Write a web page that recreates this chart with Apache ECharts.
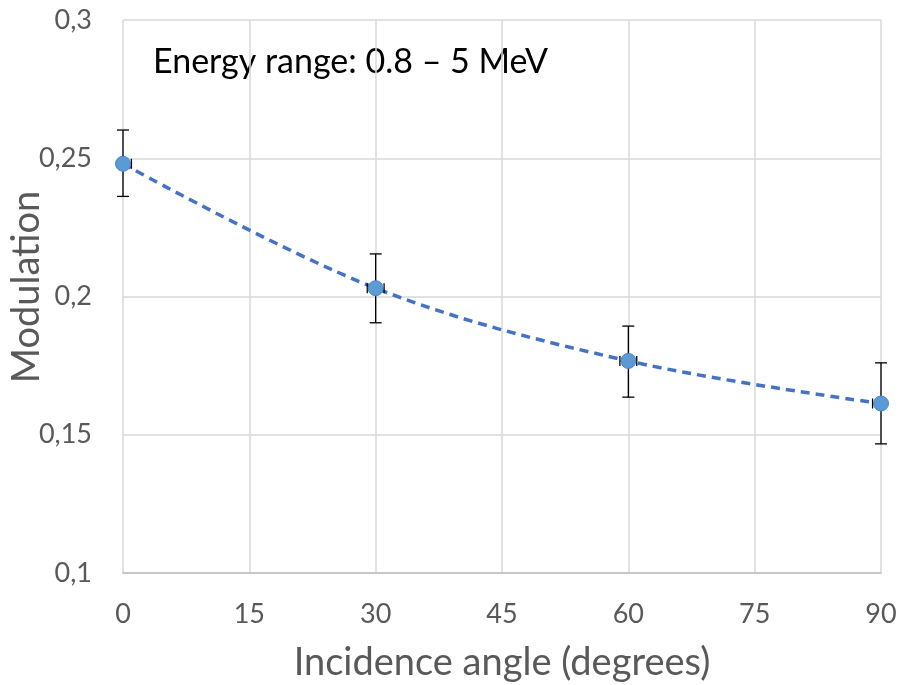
<!DOCTYPE html>
<html><head><meta charset="utf-8">
<script src="https://cdn.jsdelivr.net/npm/echarts@6/dist/echarts.min.js"></script>
<style>html,body{margin:0;padding:0;background:#fff}#c{width:899px;height:685px}</style>
</head><body><div id="c"></div>
<script>
const angles = [0, 30, 60, 90];
const modulation = [0.248, 0.203, 0.1767, 0.1613];
const errLow = [0.2362, 0.1905, 0.1636, 0.1467];
const errHigh = [0.2602, 0.2154, 0.1893, 0.1760];
const xErr = [1, 1, 1, 1];
const xTicks = [0, 15, 30, 45, 60, 75, 90];
const yTicks = [0.1, 0.15, 0.2, 0.25, 0.3];
const annotation = 'Energy range: 0.8 – 5 MeV';

const FONT = 'Lato';
const chart = echarts.init(document.getElementById('c'), null, {renderer: 'canvas'});

const pts = angles.map((a, i) => [a, modulation[i]]);
const errData = angles.map((a, i) => [a, errLow[i], errHigh[i], xErr[i], modulation[i]]);

chart.setOption({
  animation: false,
  grid: {left: 123, right: 18, top: 20, bottom: 112, containLabel: false, outerBoundsMode: 'none'},
  xAxis: {
    type: 'value', min: 0, max: 90, interval: 15,
    axisLine: {show: true, lineStyle: {color: '#bfbfbf', width: 1.5}},
    axisTick: {show: false},
    splitLine: {show: true, lineStyle: {color: '#d9d9d9', width: 1.5}},
    axisLabel: {color: '#595959', fontSize: 27, fontFamily: FONT, margin: 28},
    name: 'Incidence angle (degrees)', nameLocation: 'middle', nameGap: 71,
    nameTextStyle: {color: '#595959', fontSize: 38, fontFamily: FONT}
  },
  yAxis: {
    type: 'value', min: 0.1, max: 0.3, interval: 0.05,
    axisLine: {show: false},
    axisTick: {show: false},
    splitLine: {show: true, lineStyle: {color: '#d9d9d9', width: 1.5}},
    axisLabel: {color: '#595959', fontSize: 27, fontFamily: FONT, margin: 31,
      formatter: v => String(+v.toFixed(2)).replace('.', ',')},
    name: 'Modulation', nameLocation: 'middle', nameGap: 77, nameRotate: 90,
    nameMoveOverlap: false,
    nameTextStyle: {color: '#595959', fontSize: 38, fontFamily: FONT, padding: [0, 0, 0, 19]}
  },
  series: [
    {
      type: 'line', data: pts, smooth: 0.35, symbol: 'none', z: 2,
      lineStyle: {color: '#4472c4', width: 3.5, type: [9, 6]}
    },
    {
      type: 'custom', z: 3, data: errData,
      renderItem: function (params, api) {
        const x = api.value(0), lo = api.value(1), hi = api.value(2), dx = api.value(3), y = api.value(4);
        const pTop = api.coord([x, hi]), pBot = api.coord([x, lo]);
        const pL = api.coord([Math.max(0, x - dx), y]), pR = api.coord([Math.min(90, x + dx), y]);
        const cap = 6, hcap = 5;
        const st = {stroke: '#000', lineWidth: 1.3, fill: null};
        const children = [
          {type: 'line', shape: {x1: pTop[0], y1: pTop[1], x2: pBot[0], y2: pBot[1]}, style: st},
          {type: 'line', shape: {x1: pTop[0] - cap, y1: pTop[1], x2: pTop[0] + cap, y2: pTop[1]}, style: st},
          {type: 'line', shape: {x1: pBot[0] - cap, y1: pBot[1], x2: pBot[0] + cap, y2: pBot[1]}, style: st},
          {type: 'line', shape: {x1: pL[0], y1: pL[1], x2: pR[0], y2: pR[1]}, style: st}
        ];
        if (x - dx >= 0) children.push({type: 'line', shape: {x1: pL[0], y1: pL[1] - hcap, x2: pL[0], y2: pL[1] + hcap}, style: st});
        if (x + dx <= 90) children.push({type: 'line', shape: {x1: pR[0], y1: pR[1] - hcap, x2: pR[0], y2: pR[1] + hcap}, style: st});
        return {type: 'group', children: children};
      }
    },
    {
      type: 'scatter', data: pts, symbol: 'circle', symbolSize: 15, z: 4,
      itemStyle: {color: '#5b9bd5', borderColor: '#4a86c5', borderWidth: 1, opacity: 1}
    }
  ],
  graphic: [{
    type: 'text', left: 153, top: 45,
    style: {text: annotation, fill: '#000', fontSize: 34, fontFamily: FONT}
  }]
});
</script></body></html>
